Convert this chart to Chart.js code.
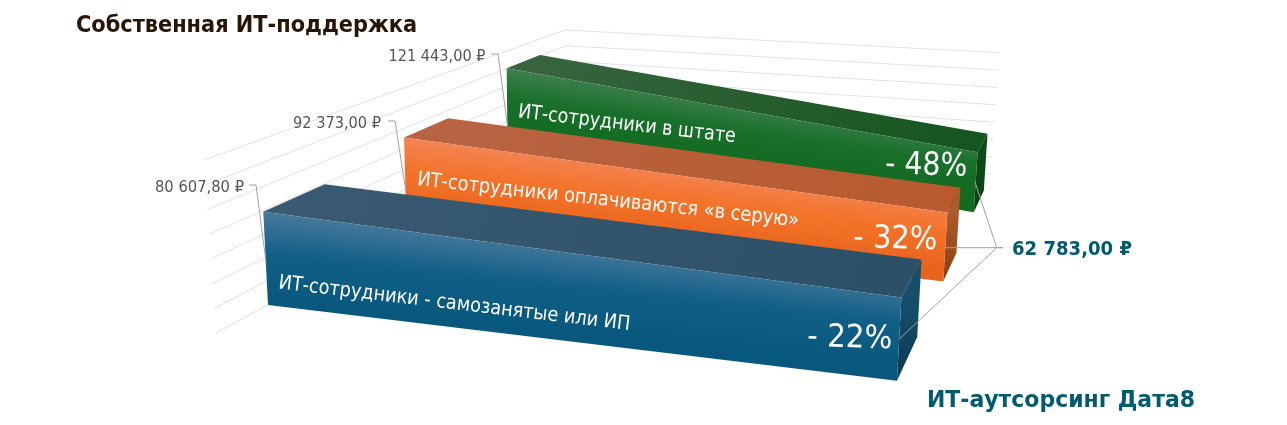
<!DOCTYPE html>
<html lang="ru"><head><meta charset="utf-8">
<style>html,body{margin:0;padding:0;background:#fff}canvas{display:block}</style>
<script src="https://cdn.jsdelivr.net/npm/chart.js@4/dist/chart.umd.min.js"></script>
</head><body>
<div style="width:1287px;height:425px"><canvas id="c" width="1287" height="425"></canvas></div>
<script>
// ---- data (front to back) ----
const categories = ["ИТ-сотрудники - самозанятые или ИП","ИТ-сотрудники оплачиваются «в серую»","ИТ-сотрудники в штате"];
const startLabels = ["80 607,80 ₽","92 373,00 ₽","121 443,00 ₽"];
const endLabel = "62 783,00 ₽";
const savings = ["- 22%","- 32%","- 48%"];
// plotted levels on the hidden 0-100 value axis
const topStart = [40,44.1,54.7];
const topEnd = [40,46.6,51.1];
const floorStart = [9.6,15.2,26.2];
const floorEnd = [9.6,17.6,22.7];
const lengthEnd = [96.7,98.2,98.8];
const gridLevels = [0,1,2,3,4,5,6,7];

// ---- styles ----
const palettes = [
 {front:["#47799b","#115f87","#07587c"],top:["#3a5a72","#2b5068"],side:["#164f6c","#0a3a52"]},
 {front:["#f38455","#f47329","#e8631c"],top:["#b86444","#b85a2e"],side:["#ad5a2c","#8a3f10"]},
 {front:["#3f7f4e","#18702a","#136a20"],top:["#3a6540","#14561f"],side:["#0e4a17","#0a4012"]}
];
const GRID="#e2e2e2", LEAD="#a2a2a2", TEAL="#005a70";

// ---- projection: three vanishing points on an origin ----
const VX=[6900,1105],VY=[577,6440],VZ=[1161,-191],O=[263.3,211.7];
const ROW=.1864, DEPTH_START=.0735, DEPTH_END=[.0932,.084,.0848];
function project(chart,xv,lv,row,back){
  const {x:sx,y:sy}=chart.scales,a=chart.chartArea;
  const xn=(sx.getPixelForValue(xv)-a.left)/a.width;
  const p=.11*xn;
  const q=.02-.05*(a.bottom-sy.getPixelForValue(lv))/a.height;
  const d=xv>0?DEPTH_END[row]:DEPTH_START;
  const t=ROW*row+(back?d:0), w=1+p+q+t;
  return [(VX[0]*p+VY[0]*q+VZ[0]*t+O[0])/w,(VX[1]*p+VY[1]*q+VZ[1]*t+O[1])/w];
}
function poly(ctx,pts,fill){ctx.beginPath();pts.forEach((p,i)=>i?ctx.lineTo(p[0],p[1]):ctx.moveTo(p[0],p[1]));ctx.closePath();ctx.fillStyle=fill;ctx.fill();}
function grad(ctx,a,b,cols){const g=ctx.createLinearGradient(a[0],a[1],b[0],b[1]);cols.forEach((c,i)=>g.addColorStop(cols.length==3?[0,.45,1][i]:i,c));return g;}
function label(ctx,s,x,y,font,color,angle,width){
  ctx.save();ctx.font=font;ctx.fillStyle=color;ctx.textBaseline="alphabetic";ctx.textAlign="left";
  ctx.translate(x,y);ctx.rotate((angle||0)*Math.PI/180);
  if(width)ctx.scale(width/ctx.measureText(s).width,1);
  ctx.fillText(s,0,0);ctx.restore();
}
function path(ctx,pts){ctx.beginPath();pts.forEach((p,i)=>i?ctx.lineTo(p[0],p[1]):ctx.moveTo(p[0],p[1]));ctx.stroke();}
const lerp=(a,b,k)=>[a[0]+(b[0]-a[0])*k,a[1]+(b[1]-a[1])*k];

const bars3d={id:"bars3d",
 beforeDatasetsDraw(chart){
  const ctx=chart.ctx;ctx.save();
  ctx.strokeStyle=GRID;ctx.lineWidth=1;
  const n=gridLevels[gridLevels.length-1];
  gridLevels.forEach(g=>{const k=g/n;
    const L=lerp([204,160],[216,333],k),C=lerp([565,30],[572,140],k),R=lerp([1000,52.7],[991,174.3],k);
    path(ctx,[L,C,R]);});
  ctx.restore();
 },
 afterDatasetsDraw(chart){
  const ctx=chart.ctx;
  ctx.save();
  for(let i=categories.length-1;i>=0;i--){
    const c=palettes[i],xe=lengthEnd[i];
    const ftl=project(chart,0,topStart[i],i,0),ftr=project(chart,xe,topEnd[i],i,0),
          fbl=project(chart,0,floorStart[i],i,0),fbr=project(chart,xe,floorEnd[i],i,0),
          btl=project(chart,0,topStart[i],i,1),btr=project(chart,xe,topEnd[i],i,1),
          bbr=project(chart,xe,floorEnd[i],i,1);
    poly(ctx,[ftl,btl,btr,ftr],grad(ctx,ftl,ftr,c.top));
    poly(ctx,[ftr,btr,bbr,fbr],grad(ctx,ftr,fbr,c.side));
    const sl=.8*(ftr[1]-ftl[1])/(ftr[0]-ftl[0]),h=fbl[1]-ftl[1],nn=Math.hypot(sl,1);
    const e=[ftl[0]-sl/nn*h*.98,ftl[1]+h/nn*.98];
    poly(ctx,[ftl,ftr,fbr,fbl],grad(ctx,ftl,e,c.front));
  }
  ctx.restore();
  // leaders
  ctx.save();ctx.strokeStyle=LEAD;ctx.lineWidth=1;
  path(ctx,[[249,185],[256,185],[266,262]]);
  path(ctx,[[388,121],[395,121],[406,192]]);
  path(ctx,[[491,54],[498,54],[507.5,126]]);
  path(ctx,[[975,182],[996.7,247.7],[1003,247.7]]);
  path(ctx,[[944.3,247.7],[1003,247.7]]);
  path(ctx,[[899.3,339],[996.7,247.7]]);
  ctx.restore();
  // texts
  const F='"DejaVu Sans"';
  label(ctx,"Собственная ИТ-поддержка",76,32,`bold 23.5px ${F}`,"#271508",0,341);
  label(ctx,"ИТ-аутсорсинг Дата8",927,407,`bold 23.5px ${F}`,TEAL,0,268);
  label(ctx,endLabel,1012,255,`bold 19px ${F}`,TEAL,0,120);
  const lp=[[155,192,89],[293,128,88],[388.5,60.5,97]];
  startLabels.forEach((s,i)=>label(ctx,s,lp[i][0],lp[i][1],`15.5px ${F}`,"#555",0,lp[i][2]));
  const tp=[[278,288.3,6.76,354],[416.7,185,6.2,384],[517.5,117.3,6.57,219]];
  categories.forEach((s,i)=>label(ctx,s,tp[i][0],tp[i][1],`20px ${F}`,"#fff",tp[i][2],tp[i][3]));
  const pp=[[807,346,85],[853,247,84],[885,173.5,82]];
  savings.forEach((s,i)=>label(ctx,s,pp[i][0],pp[i][1],`32px ${F}`,"#fff",1.5,pp[i][2]));
 }
};

new Chart(document.getElementById("c"),{
 type:"scatter",
 data:{datasets:categories.map((name,i)=>({label:name,showLine:true,borderColor:"rgba(0,0,0,0)",pointRadius:0,
   data:[{x:0,y:topStart[i]},{x:lengthEnd[i],y:topEnd[i]}]}))},
 options:{responsive:false,animation:false,layout:{padding:0},
  plugins:{legend:{display:false},title:{display:false},tooltip:{enabled:false}},
  scales:{x:{type:"linear",min:0,max:100,display:false},y:{type:"linear",min:0,max:100,display:false}}},
 plugins:[bars3d]
});
</script></body></html>
